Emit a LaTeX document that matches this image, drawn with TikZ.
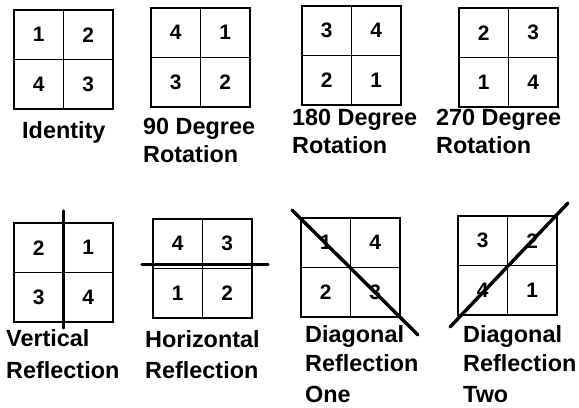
\documentclass[tikz,border=0pt]{standalone}
\usepackage{fontspec}
\setmainfont{Liberation Sans}
\usetikzlibrary{positioning}

\begin{document}
\begin{tikzpicture}[x=1bp,y=-1bp,
  cell/.style={draw,line width=1.6bp,minimum size=49.5bp,inner sep=0pt,outer sep=0pt,font=\fontsize{21}{21}\selectfont\bfseries},
  frame/.style={line width=2.6bp},
  mirror/.style={line width=3.4bp,line cap=round},
  caption/.style={anchor=base west,align=left,inner sep=0pt,font=\fontsize{23.5}{28}\selectfont\bfseries}]
\path[use as bounding box,fill=white] (0,0) rectangle (579,407);
% the eight squares
\foreach \n/\x/\y/\a/\b/\c/\d in %
{ident/14/10/1/2/4/3,rotA/151/8/4/1/3/2,rotB/302/6/3/4/2/1,rotC/459/8/2/3/1/4,
 vref/14/223/2/1/3/4,href/153/219/4/3/1/2,dref/301/218/1/4/2/3,eref/458/216/3/2/4/1} {
   \node[cell,anchor=north west] (\n1) at (\x,\y) {\a};
   \node[cell,right=0pt of \n1] (\n2) {\b};
   \node[cell,below=0pt of \n1] (\n3) {\c};
   \node[cell,right=0pt of \n3] (\n4) {\d};
   \draw[frame] (\n1.north west) rectangle (\n4.south east);
}
% mirror lines
\draw[mirror] ([yshift=12bp]vref1.north east) -- ([yshift=-6bp]vref3.south east);
\draw[mirror] ([shift={(-11,-4)}]href1.south west) -- ([shift={(16,-4)}]href2.south east);
\draw[mirror] ([shift={(-9,-8)}]dref1.north west) -- ([shift={(18,18)}]dref4.south east);
\draw[mirror] ([shift={(-8,12)}]eref3.south west) -- ([shift={(11,-13)}]eref2.north east);
% captions (placed at the last baseline)
\node[caption] (identcap) at (22,138) {Identity};
\node[caption] (rotAcap) at (143,162) {90 Degree\\Rotation};
\node[caption] (rotBcap) at (292,153) {180 Degree\\Rotation};
\node[caption] (rotCcap) at (436,153) {270 Degree\\Rotation};
\node[caption] (vrefcap) at (6,378) {Vertical\\[4bp]Reflection};
\node[caption] (hrefcap) at (145,378) {Horizontal\\[3bp]Reflection};
\node[caption] (drefcap) at (305,402) {Diagonal\\[1bp]Reflection\\[3bp]One};
\node[caption] (erefcap) at (463,402) {Diagonal\\[1bp]Reflection\\[3bp]Two};
\end{tikzpicture}
\end{document}
